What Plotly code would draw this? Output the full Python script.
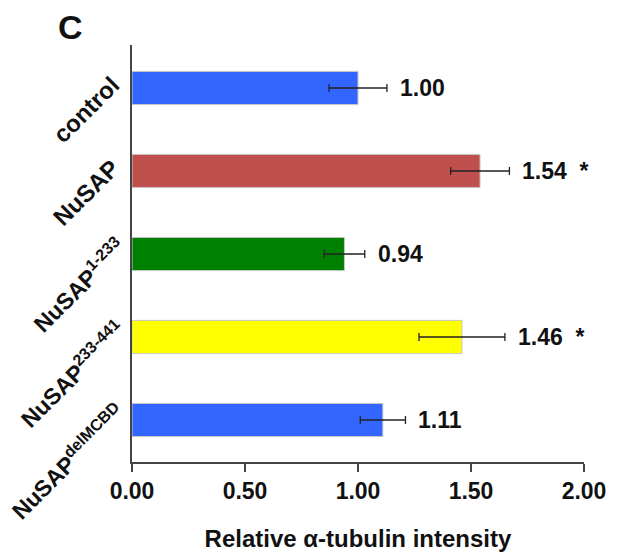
import plotly.graph_objects as go

categories = ["control", "NuSAP", "NuSAP<sup>1-233</sup>", "NuSAP<sup>233-441</sup>", "NuSAP<sup>delMCBD</sup>"]
values = [1.00, 1.54, 0.94, 1.46, 1.11]
errors = [0.128, 0.13, 0.09, 0.19, 0.10]
labels = ["1.00", "1.54  *", "0.94", "1.46  *", "1.11"]
colors = ["#3366FF", "#C0504D", "#008000", "#FFFF00", "#3366FF"]
tick_vals = [0, 0.5, 1.0, 1.5, 2.0]
tick_text = ["0.00", "0.50", "1.00", "1.50", "2.00"]

FONT = "Liberation Sans, Arial, sans-serif"

fig = go.Figure()
fig.add_trace(go.Bar(
    y=categories, x=values, orientation="h",
    marker=dict(color=colors, line=dict(color="#C8C8C8", width=1)),
    width=0.4,
    error_x=dict(type="data", array=errors, visible=True, color="#222222", thickness=1.3, width=4),
    showlegend=False, hoverinfo="skip",
))

for c, v, e, t in zip(categories, values, errors, labels):
    fig.add_annotation(x=v + e, y=c, text="<b>" + t + "</b>", showarrow=False,
                       xanchor="left", yanchor="middle", xshift=11,
                       font=dict(family=FONT, size=23, color="#111111"))

# rotated category labels (labels with a superscript sit a little further along the diagonal)
for c in categories:
    has_sup = "<sup>" in c
    fig.add_annotation(x=0, y=c, xref="x", yref="y", text="<b>" + c + "</b>", showarrow=False,
                       textangle=-45, xanchor="right", yanchor="top",
                       xshift=2 if has_sup else -5, yshift=25 if has_sup else 20,
                       font=dict(family=FONT, size=23 if has_sup else 24, color="#111111"))

fig.add_annotation(x=-0.137, y=1.043, xref="paper", yref="paper", text="<b>C</b>", showarrow=False,
                   xanchor="center", yanchor="middle",
                   font=dict(family=FONT, size=34, color="#111111"))

fig.update_layout(
    width=621, height=556,
    margin=dict(l=124, r=45, t=37, b=102),
    plot_bgcolor="white", paper_bgcolor="white",
    bargap=0.6,
    xaxis=dict(range=[0, 2], tickvals=tick_vals, ticktext=["<b>" + s + "</b>" for s in tick_text],
               automargin=False,
               showgrid=False, zeroline=False, showline=True, linecolor="#444444", linewidth=1.5,
               ticks="outside", ticklen=8, tickcolor="#444444", tickwidth=1.5,
               tickfont=dict(family=FONT, size=23, color="#111111"),
               title=dict(text="<b>Relative α-tubulin intensity</b>", standoff=27,
                          font=dict(family=FONT, size=24, color="#111111"))),
    yaxis=dict(range=[4.506, -0.518], showgrid=False, zeroline=False, automargin=False,
               showline=True, linecolor="#444444", linewidth=1.5, ticks="",
               showticklabels=False),
)

fig.write_html("out.html")
